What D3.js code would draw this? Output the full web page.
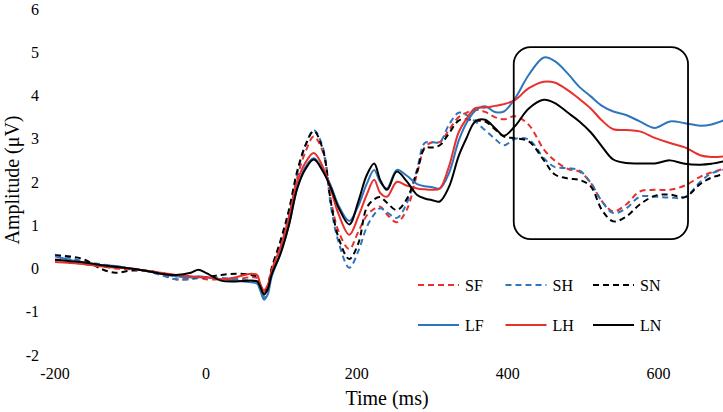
<!DOCTYPE html>
<meta charset="utf-8">
<body style="margin:0;background:#fff">
</body>
<script src="https://d3js.org/d3.v7.min.js"></script>
<script>

// time points (ms), shared by every waveform
var times = [-200,-180,-160,-140,-120,-100,-80,-60,-40,-20,
  -10,0,20,40,60,68,72,77,82,87,99,110,
  121,132,143,155,166,176,190,202,213,223,
  231,240,253,266,280,290,300,310,322,335,
  345,357,370,383,395,410,428,448,462,480,
  495,510,525,540,557,575,595,615,635,655,
  670,690];

// amplitudes (uV)
var sf = [0.2,0.2,0.1,0.05,0.0,-0.02,-0.05,-0.12,-0.25,-0.22,
  -0.2,-0.25,-0.25,-0.25,-0.2,-0.22,-0.38,-0.55,-0.42,-0.1,0.5,1.2,
  2.1,2.7,3.05,2.7,1.55,0.85,0.45,0.85,1.22,1.38,
  1.43,1.25,1.07,1.35,2.2,2.8,2.92,2.92,3.2,3.5,
  3.6,3.67,3.62,3.5,3.45,3.52,3.32,2.75,2.5,2.3,
  2.24,1.98,1.55,1.32,1.48,1.78,1.82,1.82,1.92,2.12,
  2.22,2.32];
var sh = [0.32,0.25,0.15,0.1,0.05,0.0,-0.05,-0.15,-0.25,-0.25,
  -0.22,-0.2,-0.22,-0.25,-0.28,-0.3,-0.48,-0.68,-0.5,-0.05,0.6,1.3,
  2.2,2.85,3.2,2.8,1.4,0.6,0.02,0.4,0.95,1.25,
  1.39,1.3,1.17,1.5,2.3,2.9,2.92,2.92,3.32,3.6,
  3.55,3.4,3.2,3.0,2.85,3.0,2.98,2.55,2.35,2.32,
  2.27,1.98,1.55,1.28,1.39,1.66,1.66,1.64,1.65,2.0,
  2.2,2.3];
var sn = [0.3,0.28,0.2,0.0,-0.1,-0.05,-0.05,-0.1,-0.18,-0.2,
  -0.2,-0.2,-0.15,-0.12,-0.15,-0.2,-0.42,-0.6,-0.4,0.0,0.65,1.35,
  2.25,2.85,3.18,2.75,1.5,0.7,0.22,0.58,1.4,1.6,
  1.65,1.52,1.35,1.6,2.25,2.78,2.8,2.85,3.12,3.42,
  3.45,3.42,3.4,3.22,3.05,3.01,2.94,2.5,2.18,2.08,
  2.05,1.9,1.35,1.09,1.2,1.48,1.68,1.71,1.65,1.95,
  2.1,2.2];
var lf = [0.28,0.2,0.12,0.08,0.06,0.0,-0.05,-0.12,-0.18,-0.2,
  -0.18,-0.2,-0.25,-0.28,-0.32,-0.35,-0.5,-0.72,-0.6,-0.2,0.35,1.0,
  1.85,2.35,2.55,2.28,1.9,1.45,1.1,1.45,1.95,2.28,
  2.0,1.85,2.28,2.15,1.95,1.9,1.88,1.85,2.2,2.95,
  3.35,3.65,3.75,3.62,3.63,3.94,4.48,4.88,4.8,4.5,
  4.2,3.98,3.76,3.63,3.55,3.4,3.25,3.4,3.36,3.3,
  3.33,3.45];
var lh = [0.15,0.13,0.1,0.05,0.02,0.0,-0.05,-0.1,-0.15,-0.18,
  -0.2,-0.2,-0.25,-0.2,-0.12,-0.15,-0.35,-0.5,-0.38,-0.05,0.5,1.15,
  2.0,2.45,2.67,2.35,1.8,1.25,0.78,1.2,1.7,2.05,
  1.75,1.66,2.0,1.92,1.85,1.83,1.82,1.85,2.35,3.15,
  3.45,3.71,3.72,3.76,3.8,3.9,4.17,4.32,4.3,4.12,
  3.92,3.7,3.42,3.22,3.2,3.17,3.02,2.9,2.8,2.62,
  2.58,2.6];
var ln = [0.2,0.17,0.14,0.08,0.04,0.0,-0.05,-0.12,-0.15,-0.1,
  -0.03,-0.1,-0.28,-0.3,-0.28,-0.3,-0.42,-0.6,-0.48,-0.15,0.35,1.0,
  1.85,2.3,2.52,2.25,1.85,1.4,1.02,1.55,2.15,2.43,
  2.05,1.82,2.24,2.02,1.7,1.62,1.58,1.55,1.88,2.6,
  3.0,3.4,3.44,3.25,3.07,3.3,3.7,3.9,3.83,3.6,
  3.4,3.15,2.82,2.52,2.44,2.43,2.43,2.5,2.42,2.4,
  2.42,2.49];

var names = ["SF", "SH", "SN", "LF", "LH", "LN"];
var xTicks = [-200, 0, 200, 400, 600];
var yTicks = [-2, -1, 0, 1, 2, 3, 4, 5, 6];
// highlighted window: time range and amplitude range of the rounded box
var boxTime = [408, 639];
var boxAmp = [0.68, 5.12];

var blue = "#2f75bb", red = "#e8302d", black = "#000";
var series = [
  {name: "SF", values: sf, color: red,   dash: "6,4"},
  {name: "SH", values: sh, color: blue,  dash: "6,4"},
  {name: "SN", values: sn, color: black, dash: "6,4"},
  {name: "LF", values: lf, color: blue,  dash: null},
  {name: "LH", values: lh, color: red,   dash: null},
  {name: "LN", values: ln, color: black, dash: null}
];

var width = 723, height = 412;
var font = "'Liberation Serif', 'Times New Roman', serif";

var x = d3.scaleLinear().domain([-200, 600]).range([55, 658.6]);
var y = d3.scaleLinear().domain([-2, 6]).range([355, 9]);

var svg = d3.select("body").append("svg")
  .attr("width", width)
  .attr("height", height)
  .style("display", "block");

// y tick labels
svg.append("g")
  .selectAll("text")
  .data(yTicks)
  .enter()
  .append("text")
  .attr("x", 39)
  .attr("y", function(d){ return y(d); })
  .attr("dy", "0.35em")
  .attr("text-anchor", "end")
  .style("font-family", font)
  .style("font-size", "16px")
  .text(function(d){ return d; });

// x tick labels
svg.append("g")
  .selectAll("text")
  .data(xTicks)
  .enter()
  .append("text")
  .attr("x", function(d){ return x(d); })
  .attr("y", 379)
  .attr("text-anchor", "middle")
  .style("font-family", font)
  .style("font-size", "16px")
  .text(function(d){ return d; });

svg.append("text")
  .attr("x", 387)
  .attr("y", 405)
  .attr("text-anchor", "middle")
  .style("font-family", font)
  .style("font-size", "20px")
  .text("Time (ms)");

svg.append("text")
  .attr("transform", "translate(19,180) rotate(-90)")
  .attr("text-anchor", "middle")
  .style("font-family", font)
  .style("font-size", "20px")
  .text("Amplitude (μV)");

var line = d3.line()
  .x(function(d, i){ return x(times[i]); })
  .y(function(d){ return y(d); })
  .curve(d3.curveCatmullRom.alpha(0.5));

svg.append("g")
  .selectAll("path")
  .data(series)
  .enter()
  .append("path")
  .attr("d", function(s){ return line(s.values); })
  .attr("fill", "none")
  .attr("stroke", function(s){ return s.color; })
  .attr("stroke-width", 2)
  .attr("stroke-dasharray", function(s){ return s.dash; });

// rounded box around the late window
svg.append("rect")
  .attr("x", x(boxTime[0]))
  .attr("y", y(boxAmp[1]))
  .attr("width", x(boxTime[1]) - x(boxTime[0]))
  .attr("height", y(boxAmp[0]) - y(boxAmp[1]))
  .attr("rx", 17)
  .attr("ry", 17)
  .attr("fill", "none")
  .attr("stroke", "#000")
  .attr("stroke-width", 1.8);

// legend, 3 columns x 2 rows
var legend = svg.append("g")
  .selectAll("g")
  .data(series)
  .enter()
  .append("g")
  .attr("transform", function(s, i){
    return "translate(" + (418 + (i % 3) * 87.5) + "," + (285 + Math.floor(i / 3) * 40) + ")";
  });

legend.append("line")
  .attr("x1", 0)
  .attr("x2", 41)
  .attr("stroke", function(s){ return s.color; })
  .attr("stroke-width", 2)
  .attr("stroke-dasharray", function(s){ return s.dash; });

legend.append("text")
  .attr("x", 47)
  .attr("dy", "0.35em")
  .style("font-family", font)
  .style("font-size", "16px")
  .text(function(s){ return s.name; });

</script>
